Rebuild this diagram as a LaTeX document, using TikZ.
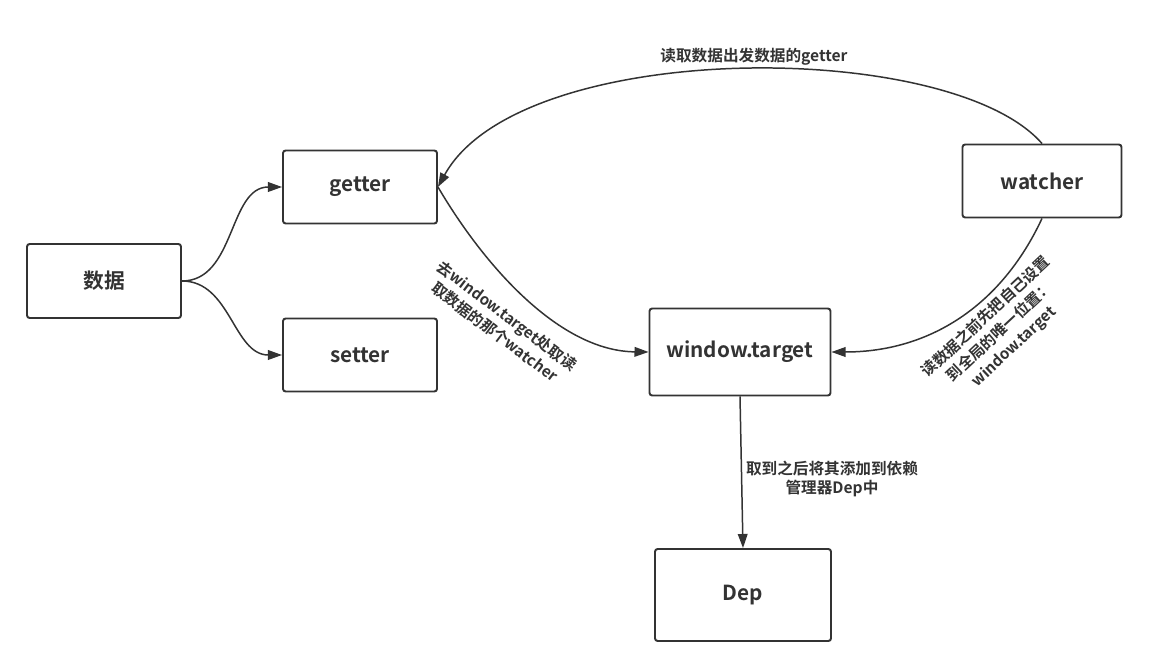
\documentclass[tikz,border=0pt]{standalone}
\usepackage{fontspec}
\setmainfont{Noto Sans CJK SC}[BoldFont={Noto Sans CJK SC Bold}]
\usepackage{tikz}
\usetikzlibrary{positioning,arrows.meta}

\definecolor{ink}{HTML}{333333}

\begin{document}
\begin{tikzpicture}
  [x=0.02cm,y=0.02cm,line width=0.85pt,draw=ink,text=ink,
   box/.style={draw,rounded corners=1.5pt,line width=1.1pt,font=\fontsize{11.8}{14}\selectfont\bfseries},
   lbl/.style={font=\fontsize{8.9}{11}\selectfont\bfseries,align=center,inner sep=0pt},
   rlbl/.style={lbl,font=\fontsize{8.7}{11.6}\selectfont\bfseries},
   arr/.style={-{Triangle[length=8pt,width=5.5pt]}}]
  \useasboundingbox (0,0) rectangle (1164,667);

  \node[box,minimum width=3.08cm,minimum height=1.48cm] (data) at (104,386) {数据};
  \node[box,minimum width=3.08cm,minimum height=1.46cm] (getter) at (360,480) {getter};
  \node[box,minimum width=3.08cm,minimum height=1.46cm] (setter) at (360,312) {setter};
  \node[box,minimum width=3.62cm,minimum height=1.74cm] (target) at (740,315) {window.target};
  \node[box,minimum width=3.18cm,minimum height=1.46cm] (watcher) at (1042,486) {watcher};
  \node[box,minimum width=3.52cm,minimum height=1.84cm] (dep) at (743,72) {Dep};

  \draw[arr] (data.east) to[out=0,in=180] (getter.west);
  \draw[arr] (data.east) to[out=0,in=180] (setter.west);
  \draw[arr] (watcher.north) .. controls (950,629) and (520,629) .. (getter.east);
  \draw[arr] (getter.east) .. controls (485,400) and (560,316) .. (target.west);
  \draw[arr] (watcher.south) to[out=-115,in=0] (target.east);
  \draw[arr] (target.south) -- (dep.north);

  \node[lbl] (ltop) at (754,610) {读取数据出发数据的getter};
  \node[rlbl,rotate=-37] (lleft) at (501,343) {去window.target处取读\\取数据的那个watcher};
  \node[rlbl,rotate=43] (lright) at (1000,335) {读数据之前先把自己设置\\到全局的唯一位置：\\window.target};
  \node[lbl] (ldep) at (832,188) {取到之后将其添加到依赖\\管理器Dep中};
\end{tikzpicture}
\end{document}
